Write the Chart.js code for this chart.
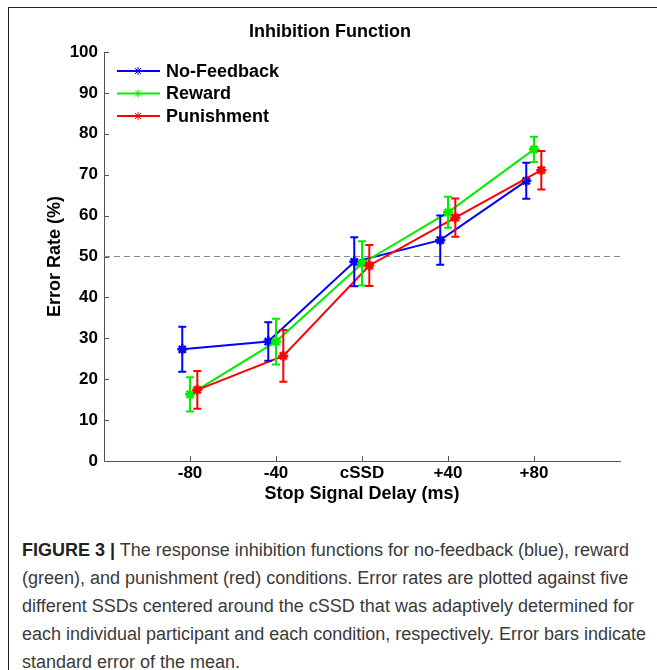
<!DOCTYPE html>
<html>
<head>
<meta charset="utf-8">
<script src="https://cdn.jsdelivr.net/npm/chart.js@4.4.0/dist/chart.umd.min.js"></script>
<style>
  html, body { margin: 0; padding: 0; background: #fff; }
  body { width: 657px; height: 670px; position: relative; overflow: hidden; }
  #frame {
    position: absolute; left: 8px; top: 7px; width: 700px; height: 700px;
    border-left: 1px solid #222; border-top: 1px solid #222;
  }
  #chartBox { position: absolute; left: 0; top: 0; width: 657px; height: 510px; }
  #caption {
    position: absolute; left: 22px; top: 536px;
    font-family: "Liberation Sans", Arial, sans-serif; font-size: 18px;
    line-height: 28px; color: #3a3a3a; white-space: nowrap;
  }
  #caption b { color: #222; }
</style>
</head>
<body>
<div id="frame"></div>
<div id="chartBox"><canvas id="inhibitionChart" width="657" height="510"></canvas></div>
<div id="caption">
  <b>FIGURE 3 |</b> The response inhibition functions for no-feedback (blue), reward<br>
  (green), and punishment (red) conditions. Error rates are plotted against five<br>
  different SSDs centered around the cSSD that was adaptively determined for<br>
  each individual participant and each condition, respectively. Error bars indicate<br>
  standard error of the mean.
</div>
<script>
// stop signal delays (ms relative to cSSD) and their tick labels
const delays = [-80, -40, 0, 40, 80];
const delayLabels = ['-80', '-40', 'cSSD', '+40', '+80'];

// error rate (%) and standard error per condition
const noFeedback = [27.3, 29.2, 48.7, 54.0, 68.5];
const noFeedbackErr = [5.5, 4.7, 6.0, 6.0, 4.4];
const reward = [16.3, 29.2, 48.3, 60.8, 76.2];
const rewardErr = [4.2, 5.6, 5.4, 3.8, 3.1];
const punishment = [17.4, 25.7, 47.8, 59.5, 71.1];
const punishmentErr = [4.6, 6.3, 5.0, 4.7, 4.7];

const threshold = 50;
const bold = { family: '"Liberation Sans", Arial, sans-serif', size: 17, weight: 'bold' };
const boldBig = { family: '"Liberation Sans", Arial, sans-serif', size: 18, weight: 'bold' };

// small horizontal shift so error bars don't overlap
function makePoints(values, shift) {
    return values.map((v, i) => ({ x: delays[i] + shift, y: v }));
}

function makeDataset(label, color, values, errors, shift, order) {
    return {
        label: label,
        data: makePoints(values, shift),
        errors: errors,
        borderColor: color,
        backgroundColor: color,
        borderWidth: 2,
        pointStyle: 'star',
        pointRadius: 5,
        pointBorderWidth: 2.5,
        pointBorderColor: color,
        tension: 0,
        order: order
    };
}

// error bars, inward ticks, threshold line, legend
const extras = {
    id: 'extras',
    beforeDatasetsDraw(chart) {
        const ctx = chart.ctx, area = chart.chartArea;
        const py = chart.scales.y.getPixelForValue(threshold);
        ctx.save();
        ctx.strokeStyle = '#888';
        ctx.lineWidth = 1;
        ctx.setLineDash([6, 4]);
        ctx.beginPath();
        ctx.moveTo(area.left, py);
        ctx.lineTo(area.right, py);
        ctx.stroke();
        ctx.restore();
    },
    afterDatasetsDraw(chart) {
        const ctx = chart.ctx;
        const xs = chart.scales.x, ys = chart.scales.y;
        // red last so it ends up on top, like the lines
        chart.data.datasets.forEach(ds => {
            ctx.save();
            ctx.strokeStyle = ds.borderColor;
            ctx.lineWidth = 2;
            ds.data.forEach((pt, j) => {
                const px = xs.getPixelForValue(pt.x);
                const top = ys.getPixelForValue(pt.y + ds.errors[j]);
                const bot = ys.getPixelForValue(pt.y - ds.errors[j]);
                ctx.beginPath();
                ctx.moveTo(px, top); ctx.lineTo(px, bot);
                ctx.moveTo(px - 4, top); ctx.lineTo(px + 4, top);
                ctx.moveTo(px - 4, bot); ctx.lineTo(px + 4, bot);
                ctx.stroke();
            });
            ctx.restore();
        });
    },
    afterDraw(chart) {
        const ctx = chart.ctx, area = chart.chartArea;
        const xs = chart.scales.x, ys = chart.scales.y;
        ctx.save();
        ctx.strokeStyle = '#555';
        ctx.lineWidth = 1;
        ctx.beginPath();
        ys.ticks.forEach(t => {
            const py = Math.round(ys.getPixelForValue(t.value)) + 0.5;
            ctx.moveTo(area.left, py); ctx.lineTo(area.left + 5, py);
        });
        xs.ticks.forEach(t => {
            const px = Math.round(xs.getPixelForValue(t.value)) + 0.5;
            ctx.moveTo(px, area.bottom); ctx.lineTo(px, area.bottom - 5);
        });
        ctx.stroke();

        // legend inside the top-left corner
        ctx.font = 'bold 18px "Liberation Sans", Arial, sans-serif';
        ctx.textBaseline = 'middle';
        chart.data.datasets.forEach((ds, i) => {
            const y0 = area.top + 19 + i * 22.5;
            const x0 = area.left + 13;
            ctx.strokeStyle = ds.borderColor;
            ctx.lineWidth = 2;
            ctx.beginPath();
            ctx.moveTo(x0, y0); ctx.lineTo(x0 + 43, y0);
            ctx.stroke();
            ctx.lineWidth = 1;
            ctx.beginPath();
            const cx = x0 + 21;
            ctx.moveTo(cx - 4, y0); ctx.lineTo(cx + 4, y0);
            ctx.moveTo(cx, y0 - 4); ctx.lineTo(cx, y0 + 4);
            ctx.moveTo(cx - 3, y0 - 3); ctx.lineTo(cx + 3, y0 + 3);
            ctx.moveTo(cx - 3, y0 + 3); ctx.lineTo(cx + 3, y0 - 3);
            ctx.stroke();
            ctx.fillStyle = '#000';
            ctx.fillText(ds.label, x0 + 49, y0 + 1);
        });
        ctx.restore();
    }
};

new Chart(document.getElementById('inhibitionChart').getContext('2d'), {
    type: 'line',
    data: {
        datasets: [
            makeDataset('No-Feedback', '#0000ff', noFeedback, noFeedbackErr, -3.6, 3),
            makeDataset('Reward', '#00ee00', reward, rewardErr, 0, 2),
            makeDataset('Punishment', '#ff0000', punishment, punishmentErr, 3.4, 1)
        ]
    },
    options: {
        responsive: false,
        animation: false,
        layout: { padding: { left: 40, right: 37, top: 0, bottom: 0 } },
        plugins: {
            legend: { display: false },
            tooltip: { enabled: false },
            title: {
                display: true,
                text: 'Inhibition Function',
                color: '#000',
                font: boldBig,
                padding: { top: 21, bottom: 9.4 }
            }
        },
        scales: {
            x: {
                type: 'linear',
                min: -120,
                max: 120,
                afterBuildTicks: s => { s.ticks = delays.map(v => ({ value: v })); },
                afterFit: s => { s.height = 49; },
                ticks: {
                    color: '#000',
                    font: bold,
                    padding: 2,
                    autoSkip: false,
                    maxRotation: 0,
                    callback: v => delayLabels[delays.indexOf(v)]
                },
                grid: { drawOnChartArea: false, drawTicks: false },
                border: { display: true, color: '#555', width: 1 },
                title: {
                    display: true,
                    text: 'Stop Signal Delay (ms)',
                    color: '#000',
                    font: boldBig,
                    padding: { top: 0, bottom: 5 }
                }
            },
            y: {
                min: 0,
                max: 100,
                afterFit: s => { s.width = 64; },
                ticks: { stepSize: 10, color: '#000', font: bold, padding: 6 },
                grid: { drawOnChartArea: false, drawTicks: false },
                border: { display: true, color: '#555', width: 1 },
                title: {
                    display: true,
                    text: 'Error Rate (%)',
                    color: '#000',
                    font: boldBig,
                    padding: { top: 4, bottom: 4 }
                }
            }
        }
    },
    plugins: [extras]
});
</script>
</body>
</html>
